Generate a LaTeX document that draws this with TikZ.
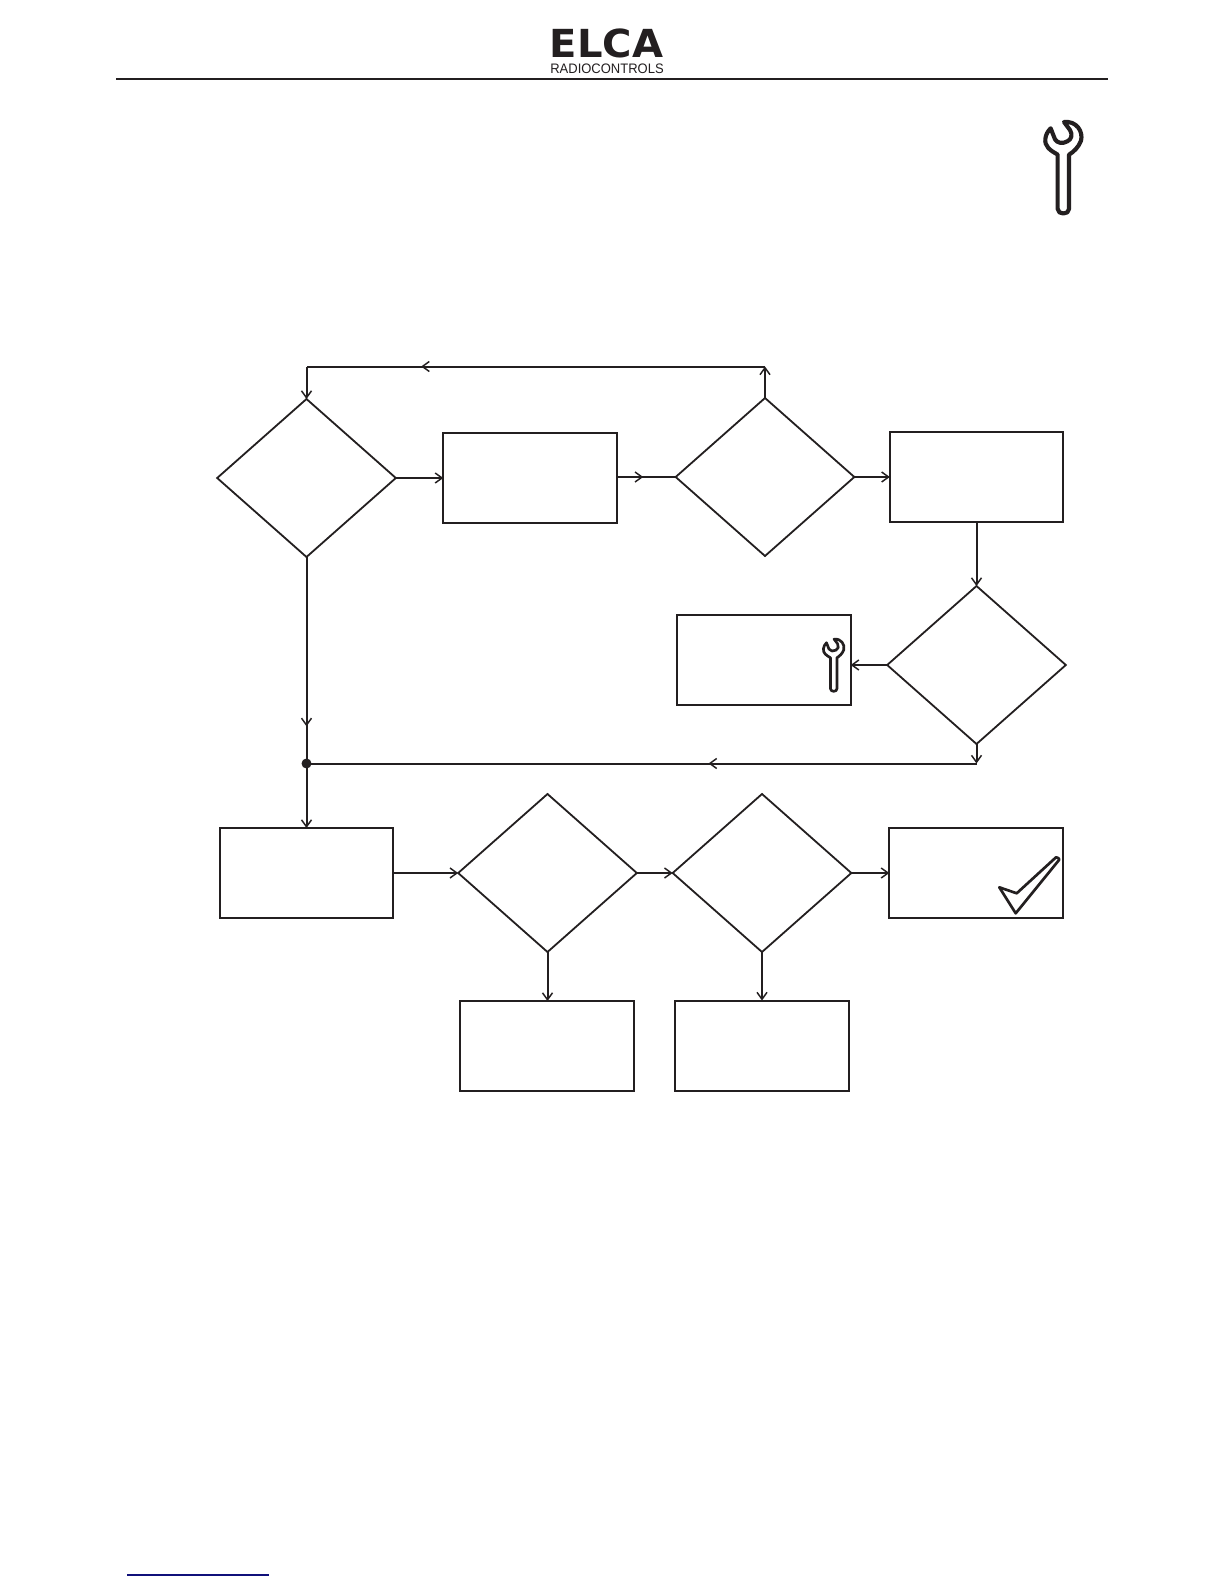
\documentclass[tikz,border=0pt]{standalone}
\usepackage{fontspec}
\setmainfont{Liberation Sans}
\newfontfamily\logofont[Scale=1]{DejaVu Sans}
\usetikzlibrary{shapes.geometric,arrows.meta,decorations.markings}
\definecolor{ink}{HTML}{231F20}
\definecolor{footblue}{HTML}{10107A}
\tikzset{
  conn/.style={draw=ink,line width=1.5pt},
  arr/.style={conn,-{Straight Barb[length=5.2pt,width=7.5pt,line width=1.1pt]}},
  midarrow/.style={postaction={decorate},decoration={markings,mark=at position #1 with {\arrow{Straight Barb[length=5.2pt,width=7.5pt,line width=1.1pt]}}}},
  boxnode/.style={draw=ink,line width=1.5pt,rectangle,inner sep=0pt,outer sep=0pt,minimum width=130pt,minimum height=67.5pt},
  dianode/.style={draw=ink,line width=1.35pt,diamond,shape aspect=1,inner sep=0pt,outer sep=0pt,minimum width=134pt,minimum height=118.5pt},
  wrenchline/.style={draw=ink,line join=round,line cap=round},
  wrench/.pic={
    \path[wrenchline,pic actions]
      (92,55) .. controls (74,72) and (70,100) .. (85,114)
      .. controls (93,123) and (104,128) .. (113,134)
      -- (113,297) .. controls (113,315) and (147,315) .. (147,297)
      -- (147,134)
      .. controls (160,126) and (176,112) .. (183,92)
      .. controls (190,65) and (170,32) .. (132,36)
      -- (150,60) .. controls (158,74) and (155,88) .. (142,94)
      .. controls (128,102) and (112,100) .. (105,88)
      -- cycle;
  }
}
\begin{document}
\begin{tikzpicture}[x=.75pt,y=-.75pt]
\useasboundingbox (0,0) rectangle (1224,1584);
\fill[white] (0,0) rectangle (1224,1584);

% header
\node[inner sep=0pt,anchor=center,text=ink] (logoA) at (606.5,43.5) {\resizebox{85pt}{21.5pt}{\logofont\bfseries ELCA}};
\node[inner sep=0pt,anchor=center,text=ink] (logoB) at (607,68.5) {\resizebox{85pt}{7.2pt}{RADIOCONTROLS}};
\draw[ink,line width=1.5pt] (116,79) -- (1108,79);

% wrenches
\path (1020,110) pic[line width=3.1pt,x=.25pt,y=-.25pt] {wrench};
\path (809,632.3) pic[line width=2pt,x=.1425pt,y=-.1425pt] {wrench};

% nodes
\node[dianode] (d1) at (306.5,478) {};
\node[boxnode] (b1) at (530,477.5) {};
\node[dianode] (d2) at (765,477) {};
\node[boxnode] (b2) at (976.5,476.5) {};
\node[dianode] (d3) at (976.5,665) {};
\node[boxnode] (b3) at (764,660) {};
\node[circle,fill=ink,inner sep=0pt,minimum size=7.5pt] (j) at (306.5,763.5) {};
\node[boxnode] (b4) at (306.5,873) {};
\node[dianode] (d4) at (547.5,873) {};
\node[dianode] (d5) at (762,873) {};
\node[boxnode] (b5) at (976,872.5) {};
\node[boxnode] (b6) at (547,1046) {};
\node[boxnode] (b7) at (762,1045.5) {};
\coordinate (tr) at (d2.north |- 0,366.5);
\coordinate (tl) at (d1.north |- 0,366.5);
\coordinate (br) at (d3.south |- j);

% connectors
\draw[arr] (d1.east) -- (d1.east -| b1.west);
\draw[conn,midarrow=.45] (b1.east |- d2.west) -- (d2.west);
\draw[arr] (d2.east) -- (d2.east -| b2.west);
\draw[arr] (b2.south) -- (d3.north);
\draw[arr] (d3.west) -- (d3.west -| b3.east);
\draw[arr] (d2.north) -- (tr);
\draw[conn,midarrow=.75] (tr) -- (tl);
\draw[arr] (tl) -- (d1.north);
\draw[arr] (d3.south) -- (br);
\draw[conn,midarrow=.4] (br) -- (j.center);
\draw[conn,midarrow=.82] (d1.south) -- (j.center);
\draw[arr] (j.center) -- (b4.north);
\draw[arr] (b4.east) -- (b4.east -| d4.west);
\draw[arr] (d4.east) -- (d5.west);
\draw[arr] (d5.east) -- (d5.east -| b5.west);
\draw[arr] (d4.south) -- (d4.south |- b6.north);
\draw[arr] (d5.south) -- (b7.north);

% check mark
\draw[ink,line width=2pt,line join=round] (999.3,887.3) -- (1016.7,893.3) -- (1056,857.3) .. controls (1060,858) and (1059,860) .. (1059,860) -- (1015.7,913.3) -- cycle;

% footer rule
\draw[footblue,line width=.9pt] (127,1575) -- (269,1575);
\end{tikzpicture}
\end{document}
